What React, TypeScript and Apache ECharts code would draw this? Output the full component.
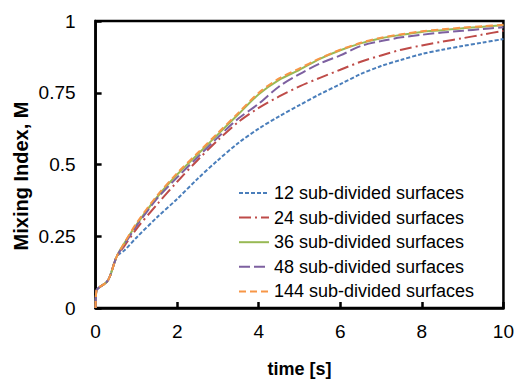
import React, { useEffect, useRef } from "react";
import * as echarts from "echarts";

const time = [0, 0.02, 0.27, 0.35, 0.52, 0.7, 1, 1.5, 2, 2.5, 3, 3.5, 4, 4.5, 5, 5.5, 6, 6.5, 7, 7.5, 8, 8.5, 9, 9.5, 10];
const s12 = [0, 0.06, 0.09, 0.11, 0.18, 0.2, 0.245, 0.315, 0.38, 0.45, 0.515, 0.575, 0.625, 0.668, 0.707, 0.745, 0.78, 0.815, 0.843, 0.865, 0.885, 0.9, 0.913, 0.925, 0.937];
const s24 = [0, 0.06, 0.09, 0.11, 0.18, 0.215, 0.275, 0.36, 0.44, 0.515, 0.585, 0.648, 0.697, 0.737, 0.772, 0.802, 0.83, 0.858, 0.88, 0.9, 0.915, 0.928, 0.94, 0.953, 0.966];
const s36 = [0, 0.06, 0.09, 0.11, 0.18, 0.225, 0.29, 0.385, 0.465, 0.535, 0.605, 0.675, 0.745, 0.795, 0.83, 0.868, 0.898, 0.922, 0.94, 0.952, 0.962, 0.968, 0.975, 0.98, 0.985];
const s48 = [0, 0.06, 0.09, 0.11, 0.18, 0.22, 0.285, 0.38, 0.455, 0.525, 0.595, 0.66, 0.712, 0.772, 0.815, 0.852, 0.88, 0.913, 0.93, 0.943, 0.952, 0.96, 0.966, 0.972, 0.978];
const s144 = [0, 0.06, 0.09, 0.11, 0.18, 0.225, 0.295, 0.39, 0.47, 0.54, 0.61, 0.68, 0.75, 0.8, 0.835, 0.87, 0.9, 0.924, 0.942, 0.954, 0.964, 0.971, 0.977, 0.982, 0.987];

const seriesNames = [
  "12 sub-divided surfaces",
  "24 sub-divided surfaces",
  "36 sub-divided surfaces",
  "48 sub-divided surfaces",
  "144 sub-divided surfaces",
];
const seriesValues = [s12, s24, s36, s48, s144];
const colors = ["#4a7ebb", "#be4b48", "#98b954", "#7d60a0", "#f79646"];
const dashes: any[] = [[4, 2], [12, 4, 2, 4], "solid", [11, 4], [7, 4]];

const FONT = "Arial, 'Liberation Sans', sans-serif";

export default function App() {
  const ref = useRef<HTMLDivElement>(null);
  useEffect(() => {
    document.body.style.margin = "0";
    const chart = echarts.init(ref.current!, undefined, { renderer: "svg" });
    chart.setOption({
      animation: false,
      backgroundColor: "#fff",
      textStyle: { fontFamily: FONT, color: "#000" },
      grid: {
        left: 95.6,
        right: 13,
        top: 21,
        bottom: 70,
        show: true,
        borderColor: "#000",
        borderWidth: 2.5,
      },
      legend: {
        orient: "vertical",
        left: 233,
        top: 179,
        itemWidth: 30,
        itemHeight: 14,
        itemGap: 6.6,
        data: seriesNames,
        itemStyle: { opacity: 0 },
        textStyle: { fontSize: 18, color: "#000", fontFamily: FONT, lineHeight: 18 },
      },
      graphic: [
        {
          type: "text",
          x: 21,
          y: 176,
          rotation: Math.PI / 2,
          style: {
            text: "Mixing Index, M",
            fontSize: 20,
            fontWeight: "bold",
            fontFamily: FONT,
            fill: "#000",
            align: "center",
            verticalAlign: "middle",
          },
        },
      ],
      xAxis: {
        type: "value",
        min: 0,
        max: 10,
        interval: 2,
        name: "time [s]",
        nameLocation: "middle",
        nameGap: 52,
        nameTextStyle: { fontSize: 18, fontWeight: "bold", color: "#000", fontFamily: FONT },
        axisLine: { show: true, lineStyle: { color: "#000", width: 2.5 } },
        axisTick: { show: true, inside: true, length: 6, lineStyle: { color: "#000", width: 2.5 } },
        axisLabel: { fontSize: 19, color: "#000", margin: 14, fontFamily: FONT },
        splitLine: { show: false },
      },
      yAxis: {
        type: "value",
        min: 0,
        max: 1,
        interval: 0.25,
        axisLine: { show: true, lineStyle: { color: "#000", width: 2.5 } },
        axisTick: { show: true, inside: true, length: 6, lineStyle: { color: "#000", width: 2.5 } },
        axisLabel: { fontSize: 19, color: "#000", margin: 20, fontFamily: FONT },
        splitLine: { show: false },
      },
      series: seriesNames.map((name, i) => ({
        name,
        type: "line",
        data: time.map((t, j) => [t, seriesValues[i][j]]),
        showSymbol: false,
        symbol: "none",
        smooth: 0.3,
        color: colors[i],
        lineStyle: { color: colors[i], width: 2, type: dashes[i] },
        z: 2 + i,
      })),
    });
    return () => chart.dispose();
  }, []);
  return <div ref={ref} style={{ width: 517, height: 383 }} />;
}
